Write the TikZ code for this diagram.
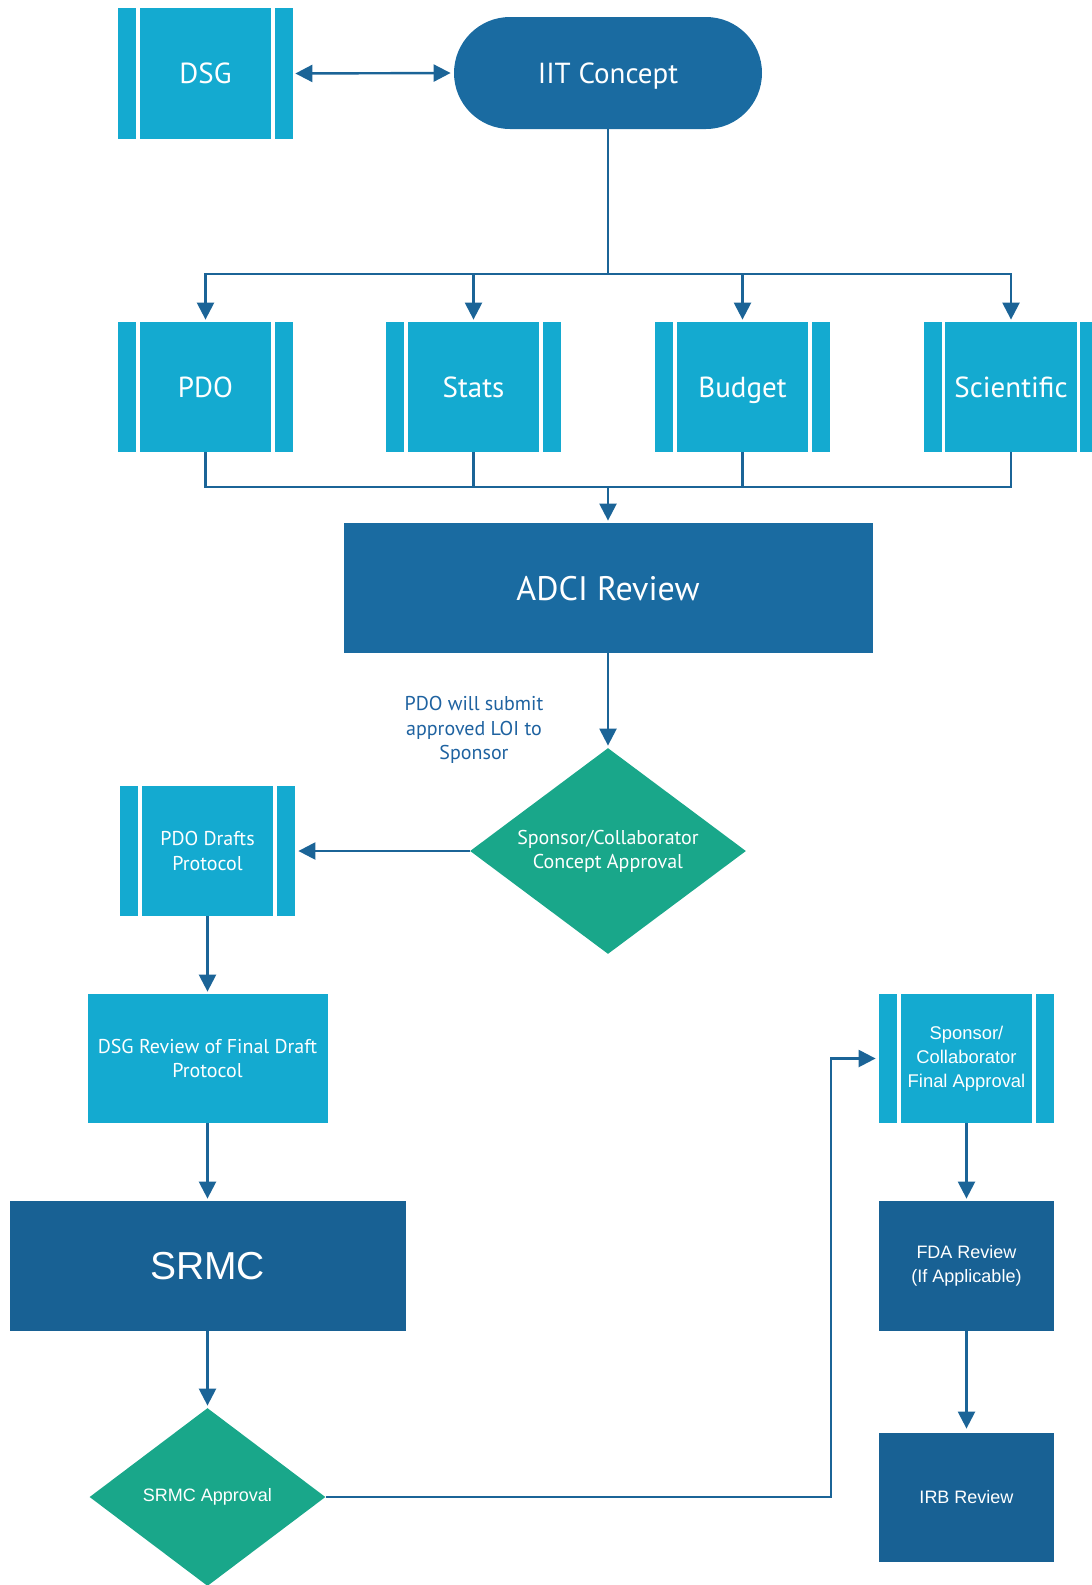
\documentclass[tikz,border=0pt]{standalone}
\usepackage{fontspec}
\setmainfont{PT Sans}
\newfontfamily\arialf{Liberation Sans}
\usetikzlibrary{shapes.geometric,arrows.meta}
\definecolor{cyanbox}{HTML}{14AAD0}
\definecolor{bluebox}{HTML}{1A6BA1}
\definecolor{darkbox}{HTML}{186194}
\definecolor{greenbox}{HTML}{19A78A}
\definecolor{lineblue}{HTML}{1B6497}
\definecolor{labelblue}{HTML}{1E62A0}
\tikzset{
  ppbox/.style={rectangle, fill=cyanbox, minimum width=87.5pt, minimum height=65pt, inner sep=0pt, text=white, align=center,
    path picture={
      \draw[white,line width=1.8pt] ([xshift=10pt]path picture bounding box.north west) -- ([xshift=10pt]path picture bounding box.south west);
      \draw[white,line width=1.8pt] ([xshift=-10pt]path picture bounding box.north east) -- ([xshift=-10pt]path picture bounding box.south east);
    }},
  bigtxt/.style={font=\fontsize{14.5pt}{17pt}\selectfont, text height=10.2pt, text depth=0pt},
  smalltxt/.style={font=\fontsize{10pt}{12.1pt}\selectfont},
  ariatxt/.style={font=\arialf\fontsize{9pt}{12.1pt}\selectfont},
  plainbox/.style={rectangle, inner sep=0pt, text=white, align=center},
  dia/.style={diamond, aspect=1.34, fill=greenbox, inner sep=0pt, text=white, align=center},
  arr/.style={draw=lineblue, line width=1.2pt, -{Triangle[width=8.5pt,length=8.5pt]}, shorten >=1pt},
  ln/.style={draw=lineblue, line width=1.2pt},
}
\begin{document}
\begin{tikzpicture}[x=0.5pt,y=-0.5pt]
\clip (0,0) rectangle (1092,1585);
% top
\node[ppbox, minimum height=65.5pt, bigtxt] (dsg) at (205.5,73.5) {DSG};
\node[plainbox, fill=bluebox, minimum width=154pt, minimum height=56pt, rounded corners=28pt, bigtxt] (iit) at (608,73) {IIT Concept};
\draw[ln, {Triangle[width=8.5pt,length=8.5pt]}-{Triangle[width=8.5pt,length=8.5pt]}, shorten <=1pt, shorten >=1.5pt] (dsg.east) -- (iit.west);
% row
\node[ppbox, bigtxt] (pdo) at (205.5,387) {PDO};
\node[ppbox, bigtxt] (stats) at (473.5,387) {Stats};
\node[ppbox, bigtxt] (budget) at (742.5,387) {Budget};
\node[ppbox, bigtxt] (sci) at (1011,387) {Scientific};
\coordinate (j1) at (608,274);
\draw[arr] (iit.south) -- (j1) -| (pdo.north);
\draw[arr] (j1) -| (stats.north);
\draw[arr] (j1) -| (budget.north);
\draw[arr] (j1) -| (sci.north);
% ADCI
\node[plainbox, fill=bluebox, minimum width=264.5pt, minimum height=65pt, font=\fontsize{17pt}{20pt}\selectfont, text height=12pt, text depth=0pt] (adci) at (608,588) {ADCI Review};
\coordinate (j2) at (608,487);
\draw[ln] (pdo.south) |- (j2);
\draw[ln] (stats.south) |- (j2);
\draw[ln] (budget.south) |- (j2);
\draw[ln] (sci.south) |- (j2);
\draw[arr] (j2) -- (adci.north);
% diamond
\node[dia, minimum width=138pt, minimum height=103pt, smalltxt] (sca) at (608,851) {Sponsor/Collaborator\\Concept Approval};
\draw[arr] (adci.south) -- (sca.north);
\node[smalltxt, text=labelblue, align=center] (note) at (474,730) {PDO will submit\\approved LOI to\\Sponsor};
% left column
\node[ppbox, smalltxt] (pdod) at (207.5,851) {PDO Drafts\\Protocol};
\draw[arr, shorten >=1.5pt] (sca.west) -- (pdod.east);
\node[plainbox, fill=cyanbox, minimum width=120pt, minimum height=64.5pt, smalltxt] (dsgr) at (207.5,1058.5) {DSG Review of Final Draft\\Protocol};
\draw[arr] (pdod.south) -- (dsgr.north);
\node[plainbox, fill=darkbox, minimum width=198pt, minimum height=65pt, font=\arialf\fontsize{19.5pt}{22pt}\selectfont] (srmc) at (207.5,1266) {SRMC};
\draw[arr] (dsgr.south) -- (srmc.north);
\node[dia, minimum width=118pt, minimum height=89pt, ariatxt] (srmca) at (207.5,1497) {SRMC Approval};
\draw[arr] (srmc.south) -- (srmca.north);
% right column
\node[ppbox, minimum height=64.5pt, font=\arialf\fontsize{9.2pt}{12.1pt}\selectfont] (spf) at (966.5,1058.5) {Sponsor/\\Collaborator\\Final Approval};
\coordinate (c1) at (831,1058.5);
\draw[arr, shorten >=1.5pt] (srmca.east) -| (c1) -- (spf.west);
\node[plainbox, fill=darkbox, minimum width=87.5pt, minimum height=65pt, ariatxt] (fda) at (966.5,1266) {FDA Review\\(If Applicable)};
\draw[arr] (spf.south) -- (fda.north);
\node[plainbox, fill=darkbox, minimum width=87.5pt, minimum height=64.5pt, ariatxt] (irb) at (966.5,1497.5) {IRB Review};
\draw[arr, shorten >=2pt] (fda.south) -- (irb.north);
\end{tikzpicture}
\end{document}
